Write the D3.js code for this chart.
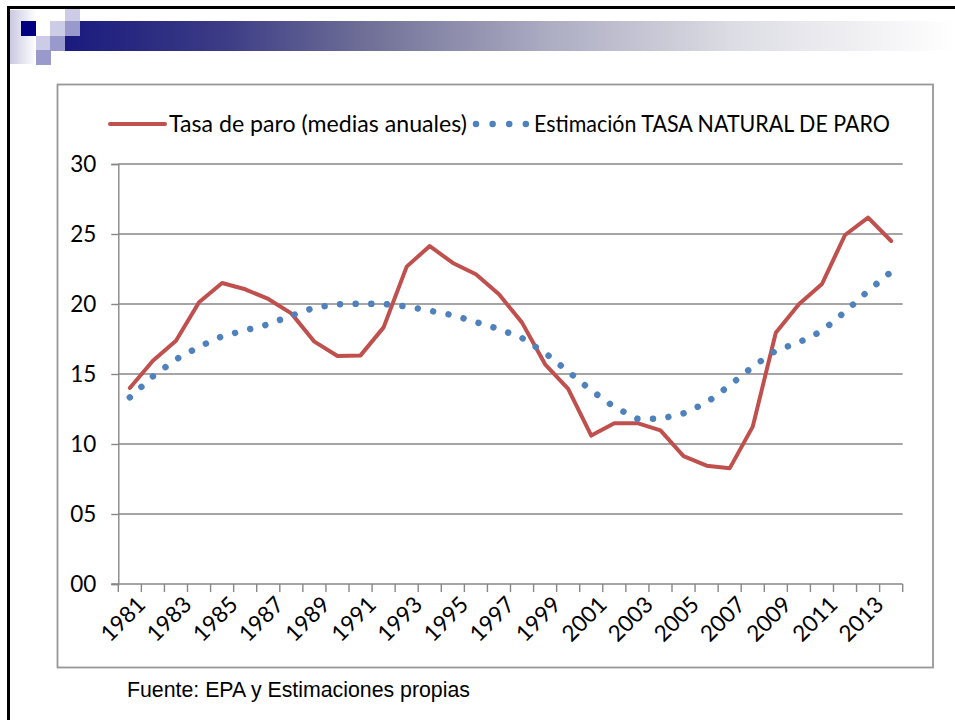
<!DOCTYPE html>
<html>
<head>
<meta charset="utf-8">
<script src="https://cdn.jsdelivr.net/npm/d3@7"></script>
<style>
  html, body { margin: 0; padding: 0; background: #ffffff; }
  svg { display: block; }
</style>
</head>
<body>
<svg id="chart" width="955" height="720"></svg>
<script>
// ---- Data ----
const years = [1981, 1982, 1983, 1984, 1985, 1986, 1987, 1988, 1989, 1990,
               1991, 1992, 1993, 1994, 1995, 1996, 1997, 1998, 1999, 2000,
               2001, 2002, 2003, 2004, 2005, 2006, 2007, 2008, 2009, 2010,
               2011, 2012, 2013, 2014];
const tasaParo = [14.0, 15.95, 17.38, 20.12, 21.5, 21.05, 20.36, 19.33, 17.31, 16.29,
                  16.33, 18.33, 22.67, 24.14, 22.93, 22.12, 20.69, 18.67, 15.69, 13.93,
                  10.6, 11.48, 11.49, 10.97, 9.14, 8.45, 8.26, 11.24, 17.95, 19.98,
                  21.43, 24.93, 26.17, 24.5];
const tasaNatural = [13.33, 14.83, 16.05, 16.95, 17.69, 18.12, 18.55, 19.17, 19.74, 19.98,
                     20.02, 20.0, 19.83, 19.52, 19.2, 18.71, 18.21, 17.57, 16.5, 15.18,
                     13.83, 12.64, 11.81, 11.8, 12.19, 12.95, 14.19, 15.52, 16.67, 17.26,
                     18.07, 19.45, 20.93, 22.3];
const xTickLabels = ["1981", "1983", "1985", "1987", "1989", "1991", "1993", "1995", "1997",
                     "1999", "2001", "2003", "2005", "2007", "2009", "2011", "2013"];
const yTickValues = [0, 5, 10, 15, 20, 25, 30];
const seriesNames = ["Tasa de paro (medias anuales)", "Estimación TASA NATURAL DE PARO"];
const sourceNote = "Fuente: EPA y Estimaciones propias";

// ---- Styles ----
const RED = "#c0504d", BLUE = "#4f81bd", GRID = "#878787";
const FONT = "Lato, 'Open Sans', sans-serif";
const FS = 22.5;

const svg = d3.select("#chart");

// ---- Slide decoration ----
const defs = svg.append("defs");
const band = defs.append("linearGradient").attr("id", "bandGrad")
  .attr("x1", "0%").attr("x2", "100%").attr("y1", "0%").attr("y2", "0%");
[["0%", "#1a1a7e"], ["18%", "#3c3c86"], ["35%", "#737399"], ["55%", "#aeaec4"],
 ["75%", "#dcdce4"], ["100%", "#ffffff"]].forEach(([o, c]) =>
  band.append("stop").attr("offset", o).attr("stop-color", c));
const leftG = defs.append("linearGradient").attr("id", "leftGrad")
  .attr("x1", "0%").attr("x2", "100%").attr("y1", "0%").attr("y2", "0%");
leftG.append("stop").attr("offset", "0%").attr("stop-color", "#c9c9e2");
leftG.append("stop").attr("offset", "100%").attr("stop-color", "#ffffff");

const deco = svg.append("g");
deco.append("rect").attr("x", 10).attr("y", 10).attr("width", 26).attr("height", 54).attr("fill", "url(#leftGrad)");
deco.append("rect").attr("x", 65).attr("y", 21).attr("width", 890).attr("height", 30).attr("fill", "url(#bandGrad)");
const sq = [
  [21, 21, "#000080"], [65, 7, "#ccccE6"], [50, 21, "#ccccE6"], [65, 21, "#9999CC"],
  [36, 36, "#ccccE6"], [50, 36, "#9999CC"], [36, 50, "#9999CC"]
];
sq.forEach(([x, y, c]) => deco.append("rect").attr("x", x).attr("y", y)
  .attr("width", 15).attr("height", y === 7 ? 14 : 15).attr("fill", c));
// slide border (top and left)
deco.append("rect").attr("x", 7).attr("y", 6).attr("width", 948).attr("height", 3).attr("fill", "#000");
deco.append("rect").attr("x", 7).attr("y", 6).attr("width", 3).attr("height", 714).attr("fill", "#000");

// ---- Chart frame ----
svg.append("rect").attr("x", 57.5).attr("y", 84.5).attr("width", 875.5).attr("height", 583)
  .attr("fill", "#fff").attr("stroke", "#979797").attr("stroke-width", 1.8);

// ---- Scales ----
const x = d3.scaleBand().domain(years).range([118.3, 902.7]).padding(0);
const y = d3.scaleLinear().domain([0, 30]).range([584, 164]);
const bw = x.bandwidth();

// Gridlines
svg.append("g").selectAll("line").data(yTickValues.filter(v => v > 0)).join("line")
  .attr("x1", x.range()[0]).attr("x2", x.range()[1])
  .attr("y1", d => y(d)).attr("y2", d => y(d))
  .attr("stroke", GRID).attr("stroke-width", 1.4);

// Y axis
const yAxis = svg.append("g").attr("transform", `translate(${x.range()[0]},0)`)
  .call(d3.axisLeft(y).tickValues(yTickValues).tickFormat(d3.format("02d")).tickSize(7).tickPadding(15));
yAxis.select(".domain").attr("stroke", GRID).attr("stroke-width", 1.4);
yAxis.selectAll(".tick line").attr("stroke", GRID).attr("stroke-width", 1.4);
yAxis.selectAll(".tick text").attr("font-family", FONT).attr("font-size", FS).attr("fill", "#000");

// X axis baseline and tick marks at category boundaries
const xAxis = svg.append("g");
xAxis.append("line").attr("x1", x.range()[0] - 7).attr("x2", x.range()[1])
  .attr("y1", y(0)).attr("y2", y(0)).attr("stroke", GRID).attr("stroke-width", 1.4);
xAxis.selectAll("line.tk").data(years.concat([null])).join("line").attr("class", "tk")
  .attr("x1", d => d === null ? x.range()[1] : x(d))
  .attr("x2", d => d === null ? x.range()[1] : x(d))
  .attr("y1", y(0)).attr("y2", y(0) + 8)
  .attr("stroke", GRID).attr("stroke-width", 1.4);
xAxis.selectAll("text").data(xTickLabels).join("text")
  .attr("transform", d => `translate(${x(+d) + bw / 2 + 17},${y(0) + 22}) rotate(-45)`)
  .attr("text-anchor", "end")
  .attr("font-family", FONT).attr("font-size", FS).attr("fill", "#000")
  .text(d => d);

// ---- Series ----
const line = d3.line().x((d, i) => x(years[i]) + bw / 2).y(d => y(d));
svg.append("path").datum(tasaParo).attr("d", line)
  .attr("fill", "none").attr("stroke", RED).attr("stroke-width", 4)
  .attr("stroke-linejoin", "round").attr("stroke-linecap", "round");
svg.append("path").datum(tasaNatural).attr("d", line)
  .attr("fill", "none").attr("stroke", BLUE).attr("stroke-width", 6.5)
  .attr("stroke-dasharray", "0.01 15.6").attr("stroke-linecap", "round");

// ---- Legend ----
const lg = svg.append("g");
lg.append("line").attr("x1", 110).attr("x2", 165).attr("y1", 124).attr("y2", 124)
  .attr("stroke", RED).attr("stroke-width", 4).attr("stroke-linecap", "round");
lg.append("text").attr("x", 169).attr("y", 132).attr("font-family", FONT).attr("font-size", 23)
  .attr("textLength", 298).attr("lengthAdjust", "spacingAndGlyphs")
  .attr("fill", "#000").text(seriesNames[0]);
lg.append("line").attr("x1", 476).attr("x2", 527).attr("y1", 124).attr("y2", 124)
  .attr("stroke", BLUE).attr("stroke-width", 6.5).attr("stroke-dasharray", "0.01 16.6")
  .attr("stroke-linecap", "round");
lg.append("text").attr("x", 534).attr("y", 132).attr("font-family", FONT).attr("font-size", 23)
  .attr("textLength", 356).attr("lengthAdjust", "spacingAndGlyphs")
  .attr("fill", "#000").text(seriesNames[1]);

// ---- Source note ----
svg.append("text").attr("x", 127).attr("y", 697)
  .attr("font-family", "'Liberation Sans', Arial, sans-serif").attr("font-size", 21.3)
  .attr("fill", "#000").text(sourceNote);
</script>
</body>
</html>
